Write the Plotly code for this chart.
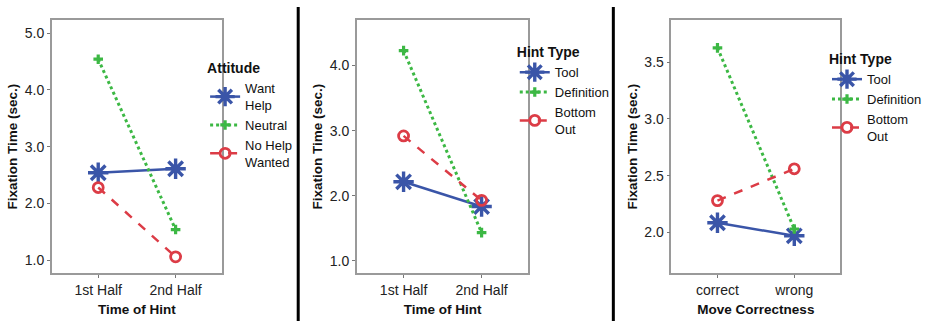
import plotly.graph_objects as go

# ---- data ----
time_cats = ["1st Half", "2nd Half"]
move_cats = ["correct", "wrong"]

# Panel 1: Attitude
want_help = [2.54, 2.61]
neutral = [4.54, 1.54]
no_help = [2.28, 1.06]

# Panel 2: Hint Type by time
tool_t = [2.215, 1.835]
definition_t = [4.23, 1.435]
bottom_t = [2.92, 1.93]

# Panel 3: Hint Type by correctness
tool_c = [2.085, 1.97]
definition_c = [3.625, 2.03]
bottom_c = [2.28, 2.56]

W, H = 927, 321
BLUE = "#3a55a8"
GREEN = "#3cb844"
RED = "#dc3c46"
FONT = "Liberation Sans, Arial, sans-serif"

def px(x):
    return x / W

def py(y):
    return 1 - y / H

fig = go.Figure()

styles = {
    "blue": dict(line=dict(color=BLUE, width=2.5, dash="solid"),
                 marker=dict(symbol="asterisk-open", size=17,
                             line=dict(color=BLUE, width=3.4), color=BLUE)),
    "green": dict(line=dict(color=GREEN, width=3, dash="dot"),
                  marker=dict(symbol="cross", size=8, color=GREEN,
                              line=dict(width=0))),
    "red": dict(line=dict(color=RED, width=2.5, dash="dash"),
                marker=dict(symbol="circle-open", size=10,
                            line=dict(color=RED, width=2.8), color=RED)),
}

def add(x, y, name, style, ax, legend):
    s = styles[style]
    fig.add_trace(go.Scatter(
        x=x, y=y, name=name, mode="lines+markers",
        line=s["line"], marker=s["marker"],
        xaxis="x" + ax, yaxis="y" + ax, legend=legend,
    ))

add(time_cats, want_help, "Want<br>Help", "blue", "", "legend")
add(time_cats, neutral, "Neutral", "green", "", "legend")
add(time_cats, no_help, "No Help<br>Wanted", "red", "", "legend")

add(time_cats, tool_t, "Tool", "blue", "2", "legend2")
add(time_cats, definition_t, "Definition", "green", "2", "legend2")
add(time_cats, bottom_t, "Bottom<br>Out", "red", "2", "legend2")

add(move_cats, tool_c, "Tool", "blue", "3", "legend3")
add(move_cats, definition_c, "Definition", "green", "3", "legend3")
add(move_cats, bottom_c, "Bottom<br>Out", "red", "3", "legend3")

ydom = [py(273.3), py(20)]

def xaxis(dom, title):
    return dict(domain=[px(dom[0]), px(dom[1])], type="category",
                range=[-0.6, 1.6], showline=True, linecolor="#9a9a9a",
                linewidth=1.5, mirror=True, ticks="outside", ticklen=3,
                tickcolor="#777", showgrid=False, zeroline=False,
                tickfont=dict(size=14, color="#222", family=FONT),
                title=dict(text="<b>" + title + "</b>", standoff=8,
                           font=dict(size=13.5, color="#111", family=FONT)))

def yaxis(anchor, rng, tickvals):
    return dict(domain=ydom, anchor=anchor, range=rng, showline=True,
                linecolor="#9a9a9a", linewidth=1.5, mirror=True,
                ticks="outside", ticklen=3, tickcolor="#777",
                tickvals=tickvals, tickformat=".1f", showgrid=False,
                zeroline=False,
                tickfont=dict(size=14, color="#222", family=FONT),
                title=dict(text="<b>Fixation Time (sec.)</b>", standoff=4,
                           font=dict(size=13.5, color="#111", family=FONT)))

def legend(x, ytop, title):
    return dict(x=px(x), y=py(ytop), xanchor="left", yanchor="top",
                bgcolor="rgba(0,0,0,0)", itemwidth=30, tracegroupgap=0,
                itemsizing="trace",
                font=dict(size=13, color="#111", family=FONT),
                title=dict(text="<b>" + title + "</b>", side="top",
                           font=dict(size=14, color="#111", family=FONT)))

fig.update_layout(
    width=W, height=H, margin=dict(l=0, r=0, t=0, b=0),
    paper_bgcolor="white", plot_bgcolor="white",
    font=dict(family=FONT, color="#111"),
    showlegend=True,
    xaxis=xaxis([52, 223], "Time of Hint"),
    xaxis2=xaxis([358.3, 530.7], "Time of Hint") | dict(anchor="y2"),
    xaxis3=xaxis([674.3, 844], "Move Correctness") | dict(anchor="y3"),
    yaxis=yaxis("x", [0.77, 5.23], [1, 2, 3, 4, 5]),
    yaxis2=yaxis("x2", [0.81, 4.70], [1, 2, 3, 4]),
    yaxis3=yaxis("x3", [1.64, 3.87], [2.0, 2.5, 3.0, 3.5]),
    legend=legend(206, 55, "Attitude"),
    legend2=legend(517, 39, "Hint Type"),
    legend3=legend(831, 46, "Hint Type"),
    shapes=[
        dict(type="line", xref="paper", yref="paper",
             x0=px(299.5), x1=px(299.5), y0=py(7), y1=0,
             line=dict(color="black", width=3)),
        dict(type="line", xref="paper", yref="paper",
             x0=px(616), x1=px(616), y0=py(7), y1=0,
             line=dict(color="black", width=3)),
    ],
)

fig.write_html(
    "out.html",
    config={"displayModeBar": False},
    post_script="document.body.style.margin='0';"
                "document.body.style.overflow='hidden';",
)
